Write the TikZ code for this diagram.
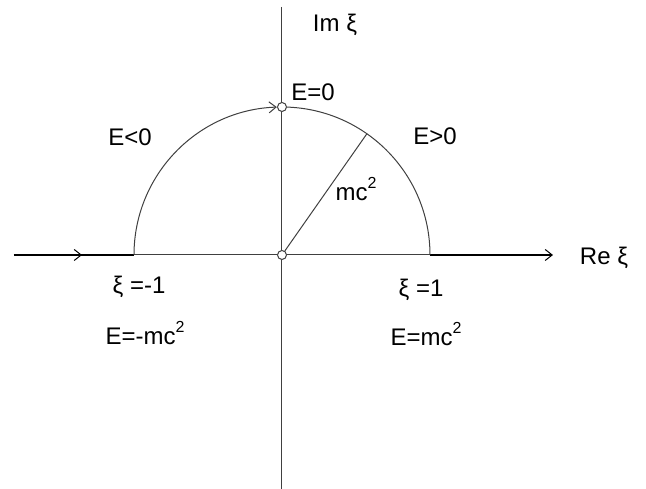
\documentclass[tikz,border=0pt]{standalone}
\usepackage{fontspec}
\setmainfont{Liberation Sans}
\usetikzlibrary{arrows.meta, positioning}

\newcommand{\sq}{\raisebox{0.5em}{\fontsize{16}{18}\selectfont 2}}

\begin{document}
\begin{tikzpicture}[x=1pt, y=1pt,
    >={Straight Barb[length=7pt, width=11pt, line width=1pt]},
    axis/.style={draw=black!75, line width=1pt},
    ray/.style={draw=black, line width=1.8pt},
    dot/.style={draw=black!75, fill=white, circle, inner sep=0pt, minimum size=9pt, line width=1pt},
    lbl/.style={font=\fontsize{24}{28}\selectfont, inner sep=0pt}]
        \useasboundingbox (-282,-234) rectangle (364,255);

        % axes and path ends
        \coordinate (north) at (0,248);
        \coordinate (south) at (0,-234);
        \coordinate (west) at (-268,0);
        \coordinate (east) at (271,0);
        \coordinate (left) at (-148,0);
        \coordinate (right) at (148,0);
        \coordinate (rim) at (55:148);
        \coordinate (midarrow) at (-200,0);

        \draw[axis] (north) -- (south);
        \draw[axis] (left) -- (right);
        \draw[ray] (west) -- (left);
        \draw[ray, ->] (west) -- (midarrow);
        \draw[ray, ->] (right) -- (east);

        % half circle
        \node[dot] (orig) at (0,0) {};
        \node[dot] (top) at (0,148) {};
        \draw[axis, ->] (left) arc[start angle=180, end angle=92, radius=148];
        \draw[axis] (right) arc[start angle=0, end angle=88, radius=148];
        \draw[axis] (orig) -- (rim);

        % labels
        \node[lbl] (imlbl) at (53,230) {Im ξ};
        \node[lbl] (relbl) at (322,-3) {Re ξ};
        \node[lbl] (ezero) at (31,163) {E=0};
        \node[lbl] (eneg) at (-152,118) {E<0};
        \node[lbl] (epos) at (153,119) {E>0};
        \node[lbl] (radius) at (74,66) {mc\sq};
        \node[lbl] (ximinus) at (-143,-32) {ξ =-1};
        \node[lbl] (emin) at (-137,-78) {E=-mc\sq};
        \node[lbl] (xiplus) at (139,-35) {ξ =1};
        \node[lbl] (emax) at (144,-79) {E=mc\sq};
\end{tikzpicture}
\end{document}
